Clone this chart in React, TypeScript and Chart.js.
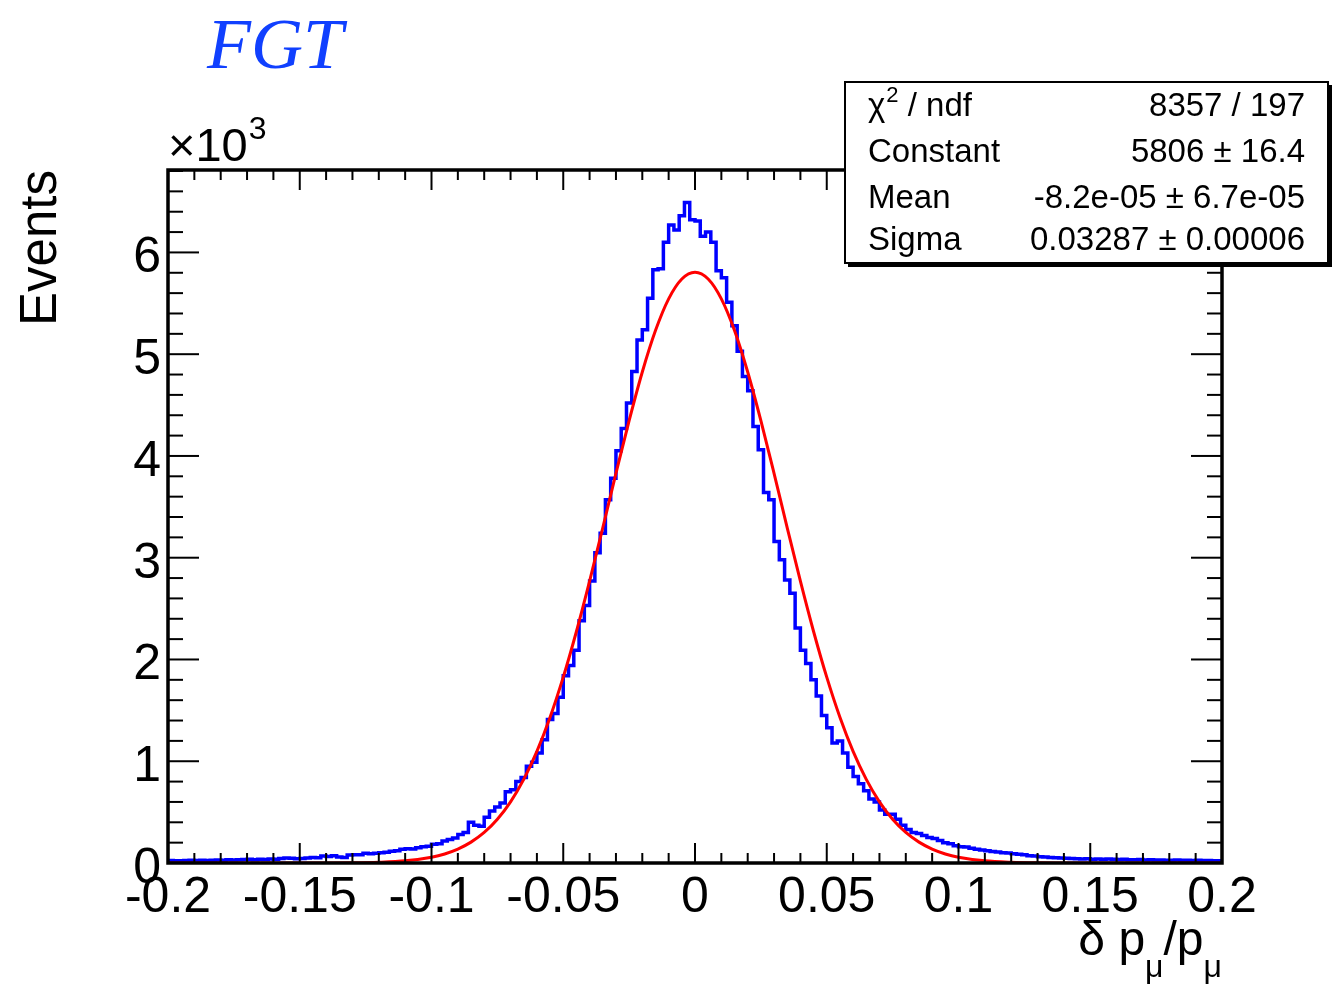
import React, { useEffect, useRef } from "react";
import { Chart, registerables } from "chart.js";

Chart.register(...registerables);

const X_MIN = -0.2;
const X_MAX = 0.2;
const BIN_WIDTH = 0.002;
const Y_MAX = 6810;

// Histogram bin contents (events), 200 bins from -0.2 to 0.2
const histCounts = [
  20, 24, 21, 23, 25, 26, 24, 28, 25, 27,
  30, 28, 32, 29, 31, 34, 36, 33, 37, 35,
  40, 38, 45, 50, 47, 42, 45, 48, 55, 52,
  68, 65, 72, 58, 55, 78, 82, 80, 95, 92,
  95, 100, 105, 115, 120, 135, 140, 138, 150, 160,
  165, 185, 190, 215, 230, 245, 280, 300, 400, 370,
  360, 450, 510, 550, 590, 700, 720, 800, 840, 950,
  990, 1080, 1210, 1410, 1470, 1630, 1840, 1940, 2090, 2380,
  2530, 2770, 3050, 3240, 3570, 3780, 4050, 4270, 4520, 4830,
  5140, 5240, 5550, 5830, 5840, 6100, 6270, 6220, 6360, 6490,
  6320, 6310, 6160, 6200, 6100, 5820, 5750, 5510, 5280, 5030,
  4780, 4640, 4290, 4060, 3640, 3570, 3160, 2980, 2780, 2650,
  2310, 2090, 1960, 1800, 1640, 1450, 1330, 1180, 1200, 1080,
  940, 850, 780, 710, 630, 600, 520, 480, 480, 430,
  370, 330, 300, 290, 270, 250, 240, 220, 200, 190,
  170, 160, 158, 145, 135, 128, 120, 112, 108, 100,
  98, 90, 86, 80, 72, 68, 62, 60, 55, 52,
  48, 46, 44, 42, 40, 41, 38, 40, 37, 39,
  36, 35, 37, 33, 32, 34, 30, 31, 29, 30,
  28, 27, 29, 26, 27, 25, 26, 24, 25, 22,
];

// Fitted curve
const fitX = [
  -0.2, -0.19, -0.18, -0.17, -0.16, -0.15, -0.14, -0.13, -0.12, -0.11,
  -0.1, -0.095, -0.09, -0.085, -0.08, -0.075, -0.07, -0.065, -0.06, -0.055,
  -0.05, -0.045, -0.04, -0.035, -0.03, -0.025, -0.02, -0.015, -0.01, -0.005,
  0,
  0.005, 0.01, 0.015, 0.02, 0.025, 0.03, 0.035, 0.04, 0.045, 0.05,
  0.055, 0.06, 0.065, 0.07, 0.075, 0.08, 0.085, 0.09, 0.095, 0.1,
  0.11, 0.12, 0.13, 0.14, 0.15, 0.16, 0.17, 0.18, 0.19, 0.2,
];
const fitY = [
  0, 0, 0, 0, 0, 0, 1, 2, 7, 21,
  57, 89, 137, 205, 300, 430, 601, 822, 1097, 1432,
  1826, 2275, 2769, 3294, 3829, 4347, 4825, 5232, 5544, 5739,
  5806,
  5739, 5544, 5232, 4825, 4347, 3829, 3294, 2769, 2275, 1826,
  1432, 1097, 822, 601, 430, 300, 205, 137, 89, 57,
  21, 7, 2, 1, 0, 0, 0, 0, 0, 0,
];

const xTickValues = [-0.2, -0.15, -0.1, -0.05, 0, 0.05, 0.1, 0.15, 0.2];
const xTickLabels = ["-0.2", "-0.15", "-0.1", "-0.05", "0", "0.05", "0.1", "0.15", "0.2"];
const yTickValues = [0, 1000, 2000, 3000, 4000, 5000, 6000];
const yTickLabels = ["0", "1", "2", "3", "4", "5", "6"];

const statsNames = ["Constant", "Mean", "Sigma"];
const statsValues = ["8357 / 197", "5806 \u00b1 16.4", "-8.2e-05 \u00b1 6.7e-05", "0.03287 \u00b1 0.00006"];

const FONT = '"Liberation Sans", Arial, Helvetica, sans-serif';

const rootDecor = {
  id: "rootDecor",
  afterDatasetsDraw(chart: any) {
    const { ctx, chartArea: a } = chart;
    const xs = chart.scales.x;
    const ys = chart.scales.y;
    const seg = (x1: number, y1: number, x2: number, y2: number) => {
      ctx.beginPath();
      ctx.moveTo(x1, y1);
      ctx.lineTo(x2, y2);
      ctx.stroke();
    };
    ctx.save();
    ctx.strokeStyle = "#000";
    ctx.lineWidth = 2;
    for (let i = 0; i <= 40; i++) {
      const px = xs.getPixelForValue(X_MIN + i * 0.01);
      const len = i % 5 === 0 ? 20 : 10;
      seg(px, a.bottom, px, a.bottom - len);
      seg(px, a.top, px, a.top + len);
    }
    for (let i = 0; i * 200 <= Y_MAX; i++) {
      const py = ys.getPixelForValue(i * 200);
      const len = i % 5 === 0 ? 31 : 15;
      seg(a.left, py, a.left + len, py);
      seg(a.right, py, a.right - len, py);
    }
    ctx.lineWidth = 3.5;
    ctx.strokeRect(a.left, a.top, a.right - a.left, a.bottom - a.top);

    // tick labels
    ctx.fillStyle = "#000";
    ctx.font = `50px ${FONT}`;
    ctx.textBaseline = "alphabetic";
    ctx.textAlign = "center";
    xTickValues.forEach((v, k) => {
      ctx.fillText(xTickLabels[k], xs.getPixelForValue(v), 912);
    });
    ctx.textAlign = "right";
    yTickValues.forEach((v, k) => {
      ctx.fillText(yTickLabels[k], 161, ys.getPixelForValue(v) + 20);
    });

    // stats box
    ctx.fillStyle = "#000";
    ctx.fillRect(848, 85, 484, 182);
    ctx.fillStyle = "#fff";
    ctx.fillRect(845, 82, 483, 181);
    ctx.lineWidth = 2;
    ctx.strokeRect(845, 82, 483, 181);
    ctx.fillStyle = "#000";
    ctx.textAlign = "left";
    ctx.font = `33px ${FONT}`;
    const rows = [116, 162, 208, 250];
    ctx.fillText("\u03c7", 868, rows[0]);
    let cx = 868 + ctx.measureText("\u03c7").width;
    ctx.font = `22px ${FONT}`;
    ctx.fillText("2", cx + 1, rows[0] - 14);
    cx += ctx.measureText("2").width + 1;
    ctx.font = `33px ${FONT}`;
    ctx.fillText(" / ndf", cx, rows[0]);
    statsNames.forEach((n, k) => ctx.fillText(n, 868, rows[k + 1]));
    ctx.textAlign = "right";
    statsValues.forEach((v, k) => ctx.fillText(v, 1305, rows[k]));

    // y title
    ctx.save();
    ctx.translate(56, a.top);
    ctx.rotate(-Math.PI / 2);
    ctx.textAlign = "right";
    ctx.font = `51px ${FONT}`;
    ctx.fillText("Events", 0, 0);
    ctx.restore();

    // x title
    ctx.textAlign = "left";
    const big = `48px ${FONT}`;
    const small = `32px ${FONT}`;
    const parts: [string, string, number][] = [
      ["\u03b4 p", big, 0],
      ["\u03bc", small, 22],
      ["/p", big, 0],
      ["\u03bc", small, 22],
    ];
    let total = 0;
    parts.forEach(([t, f]) => {
      ctx.font = f;
      total += ctx.measureText(t).width;
    });
    let tx = a.right - total;
    parts.forEach(([t, f, dy]) => {
      ctx.font = f;
      ctx.fillText(t, tx, 955 + dy);
      tx += ctx.measureText(t).width;
    });

    // x10^3
    ctx.font = `47px ${FONT}`;
    ctx.fillText("\u00d710", a.left, 161);
    const w10 = ctx.measureText("\u00d710").width;
    ctx.font = `32px ${FONT}`;
    ctx.fillText("3", a.left + w10 + 1, 139);

    // FGT label
    ctx.fillStyle = "#1040ff";
    ctx.font = `italic 72px "Liberation Serif", "DejaVu Serif", serif`;
    ctx.fillText("FGT", 207, 68);
    ctx.restore();
  },
};

export default function App() {
  const ref = useRef<HTMLCanvasElement | null>(null);
  useEffect(() => {
    if (!ref.current) return;
    const histPoints = histCounts.map((c, i) => ({ x: X_MIN + i * BIN_WIDTH, y: c }));
    histPoints.push({ x: X_MAX, y: histCounts[histCounts.length - 1] });
    const fitPoints = fitX.map((x, i) => ({ x, y: fitY[i] }));
    const chart = new Chart(ref.current, {
      type: "line",
      data: {
        datasets: [
          {
            label: "fit",
            data: fitPoints,
            borderColor: "#ff0000",
            borderWidth: 3,
            pointRadius: 0,
            cubicInterpolationMode: "monotone",
            fill: false,
          },
          {
            label: "hist",
            data: histPoints,
            borderColor: "#0000ff",
            borderWidth: 3.5,
            pointRadius: 0,
            stepped: "after",
            fill: false,
          },
        ],
      },
      options: {
        animation: false,
        responsive: false,
        devicePixelRatio: 1,
        layout: { padding: { left: 0, top: 170, right: 110, bottom: 0 } },
        plugins: { legend: { display: false }, tooltip: { enabled: false } },
        scales: {
          x: {
            type: "linear",
            min: X_MIN,
            max: X_MAX,
            afterFit: (s: any) => {
              s.height = 123;
            },
            grid: { display: false, drawTicks: false },
            border: { display: false },
            ticks: { display: false },
          },
          y: {
            type: "linear",
            min: 0,
            max: Y_MAX,
            afterFit: (s: any) => {
              s.width = 168;
            },
            grid: { display: false, drawTicks: false },
            border: { display: false },
            ticks: { display: false },
          },
        },
      },
      plugins: [rootDecor],
    } as any);
    return () => chart.destroy();
  }, []);
  return (
    <div style={{ position: "absolute", left: 0, top: 0, width: 1332, height: 986 }}>
      <canvas ref={ref} width={1332} height={986} style={{ display: "block" }} />
    </div>
  );
}
